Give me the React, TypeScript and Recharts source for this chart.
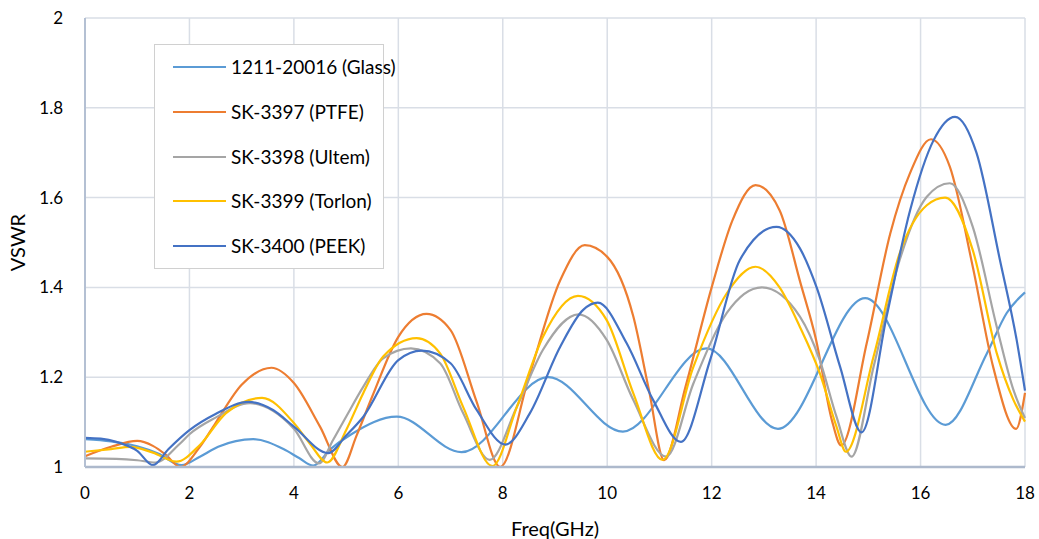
import React from 'react';
import { LineChart, Line, XAxis, YAxis, CartesianGrid, Legend, Label } from 'recharts';

const seriesNames = ['1211-20016 (Glass)', 'SK-3397 (PTFE)', 'SK-3398 (Ultem)', 'SK-3399 (Torlon)', 'SK-3400 (PEEK)'];
const seriesColors = ['#5B9BD5', '#ED7D31', '#A5A5A5', '#FFC000', '#4472C4'];
const xTicks = [0, 2, 4, 6, 8, 10, 12, 14, 16, 18];
const yTicks = [1, 1.2, 1.4, 1.6, 1.8, 2];

const glassFreq = [0, 0.5, 1.0, 1.4, 1.85, 2.2, 2.55, 3.22, 3.8, 4.1, 4.37, 4.7, 5.1, 5.97, 7.21, 8.87, 10.3, 11.9, 13.27, 14.94, 16.48, 17.27, 17.65, 18];
const glassVswr = [1.062, 1.057, 1.046, 1.03, 1.004, 1.023, 1.045, 1.062, 1.04, 1.02, 1.003, 1.04, 1.073, 1.112, 1.033, 1.2, 1.079, 1.264, 1.085, 1.376, 1.094, 1.253, 1.343, 1.389];

const ptfeFreq = [0, 0.5, 1.0, 1.3, 1.55, 1.82, 2.2, 2.5, 3.0, 3.57, 4.0, 4.5, 4.93, 5.2, 5.5, 6.0, 6.54, 7.0, 7.5, 7.95, 8.5, 9.1, 9.57, 10.0, 10.5, 10.8, 11.09, 11.5, 12.0, 12.4, 12.84, 13.3, 13.7, 14.0, 14.3, 14.48, 14.97, 15.42, 15.8, 16.2, 16.56, 17.0, 17.39, 17.83, 18];
const ptfeVswr = [1.024, 1.045, 1.058, 1.047, 1.027, 1.0, 1.045, 1.098, 1.183, 1.221, 1.187, 1.09, 1.0, 1.07, 1.157, 1.29, 1.341, 1.305, 1.145, 1.0, 1.2, 1.416, 1.494, 1.468, 1.335, 1.171, 1.015, 1.179, 1.4, 1.55, 1.628, 1.572, 1.41, 1.283, 1.105, 1.048, 1.276, 1.52, 1.655, 1.73, 1.669, 1.446, 1.223, 1.085, 1.165];

const ultemFreq = [0, 0.6, 1.0, 1.35, 1.8, 2.0, 2.5, 3.16, 3.6, 4.0, 4.48, 4.75, 5.0, 5.33, 5.71, 6.24, 6.8, 7.24, 7.75, 8.27, 8.77, 9.45, 9.99, 10.5, 11.13, 11.65, 12.29, 12.96, 13.69, 14.07, 14.39, 14.68, 15.1, 15.6, 16.12, 16.56, 17.0, 17.46, 17.78, 18];
const ultemVswr = [1.019, 1.018, 1.015, 1.01, 1.05, 1.073, 1.11, 1.142, 1.125, 1.085, 1.008, 1.06, 1.112, 1.179, 1.242, 1.264, 1.231, 1.12, 1.016, 1.134, 1.261, 1.34, 1.283, 1.149, 1.023, 1.186, 1.343, 1.4, 1.335, 1.238, 1.112, 1.023, 1.223, 1.461, 1.602, 1.632, 1.535, 1.312, 1.171, 1.109];

const torlonFreq = [0, 0.5, 0.87, 1.3, 1.75, 2.2, 2.7, 3.39, 4.0, 4.3, 4.64, 5.0, 5.33, 5.71, 6.35, 6.8, 7.24, 7.8, 8.27, 8.77, 9.44, 9.99, 10.5, 11.06, 11.65, 12.29, 12.84, 13.3, 13.69, 14.07, 14.39, 14.57, 15.1, 15.6, 16.12, 16.47, 17.0, 17.46, 17.78, 18];
const torlonVswr = [1.034, 1.04, 1.045, 1.032, 1.012, 1.049, 1.12, 1.154, 1.098, 1.053, 1.01, 1.082, 1.165, 1.246, 1.287, 1.253, 1.134, 1.002, 1.134, 1.29, 1.381, 1.327, 1.164, 1.016, 1.223, 1.387, 1.446, 1.4, 1.312, 1.209, 1.09, 1.034, 1.246, 1.476, 1.583, 1.6, 1.483, 1.253, 1.149, 1.101];

const peekFreq = [0, 0.3, 0.6, 1.0, 1.3, 1.6, 2.0, 2.5, 3.13, 3.6, 4.0, 4.66, 5.0, 5.33, 6.0, 6.45, 7.0, 7.5, 8.05, 8.52, 9.1, 9.54, 9.82, 10.37, 10.88, 11.41, 11.97, 12.54, 13.24, 13.69, 14.01, 14.46, 14.87, 15.35, 15.8, 16.25, 16.66, 17.07, 17.52, 17.84, 18];
const peekVswr = [1.065, 1.063, 1.056, 1.036, 1.004, 1.04, 1.082, 1.118, 1.145, 1.127, 1.09, 1.031, 1.07, 1.112, 1.238, 1.259, 1.231, 1.127, 1.05, 1.12, 1.268, 1.35, 1.366, 1.276, 1.149, 1.056, 1.238, 1.461, 1.535, 1.487, 1.4, 1.223, 1.077, 1.335, 1.572, 1.728, 1.78, 1.7, 1.461, 1.283, 1.17];

const toData = (f: number[], v: number[]) => f.map((x, i) => ({ freq: x, vswr: v[i] }));

const seriesData = [
  toData(glassFreq, glassVswr),
  toData(ptfeFreq, ptfeVswr),
  toData(ultemFreq, ultemVswr),
  toData(torlonFreq, torlonVswr),
  toData(peekFreq, peekVswr),
];

const FONT = 'Lato, "DejaVu Sans", sans-serif';

function LegendBox(props: any) {
  const payload = props.payload || [];
  return (
    <div
      style={{
        width: 230,
        height: 225,
        boxSizing: 'border-box',
        border: '1.5px solid #D0D0D0',
        background: '#fff',
        position: 'relative',
        fontFamily: FONT,
        fontSize: 19,
        color: '#000',
      }}
    >
      {payload.map((e: any, i: number) => (
        <div
          key={i}
          style={{
            position: 'absolute',
            left: 18,
            top: Math.round(10 + i * 44.8),
            height: 24,
            display: 'flex',
            alignItems: 'center',
          }}
        >
          <div style={{ width: 53, height: 2, background: e.color }} />
          <span style={{ marginLeft: 5, whiteSpace: 'nowrap', lineHeight: '24px' }}>{e.value}</span>
        </div>
      ))}
    </div>
  );
}

export default function App() {
  return (
    <div style={{ position: 'absolute', left: 0, top: 0, width: 1039, height: 539, background: '#fff' }}>
      <LineChart width={1039} height={539} margin={{ top: 18, right: 14, bottom: 0, left: 0 }}>
        <CartesianGrid stroke="#D9DEE6" strokeWidth={1.5} />
        <XAxis
          dataKey="freq"
          type="number"
          domain={[0, 18]}
          ticks={xTicks}
          tickSize={0}
          tickMargin={20}
          height={72}
          axisLine={{ stroke: '#ADB9CC', strokeWidth: 2.5 }}
          tick={{ fill: '#000', fontSize: 17, fontFamily: FONT }}
          allowDuplicatedCategory={false}
        >
          <Label value="Freq(GHz)" position="insideBottom" offset={3} style={{ fontFamily: FONT, fontSize: 20, fill: '#000' }} />
        </XAxis>
        <YAxis
          type="number"
          domain={[1, 2]}
          ticks={yTicks}
          width={85}
          tickSize={0}
          tickMargin={22}
          axisLine={{ stroke: '#B4C0D3', strokeWidth: 2 }}
          tick={{ fill: '#000', fontSize: 17, fontFamily: FONT }}
        >
          <Label
            value="VSWR"
            angle={-90}
            position="insideLeft"
            offset={17.5}
            style={{ textAnchor: 'middle', fontFamily: FONT, fontSize: 20, fill: '#000' }}
          />
        </YAxis>
        <Legend
          layout="vertical"
          align="center"
          verticalAlign="middle"
          content={LegendBox}
          wrapperStyle={{ left: 154, top: 44, width: 230, height: 225 }}
        />
        {seriesData.map((d, i) => (
          <Line
            key={seriesNames[i]}
            data={d}
            dataKey="vswr"
            name={seriesNames[i]}
            type="monotone"
            stroke={seriesColors[i]}
            strokeWidth={2.2}
            dot={false}
            activeDot={false}
            isAnimationActive={false}
          />
        ))}
      </LineChart>
    </div>
  );
}
